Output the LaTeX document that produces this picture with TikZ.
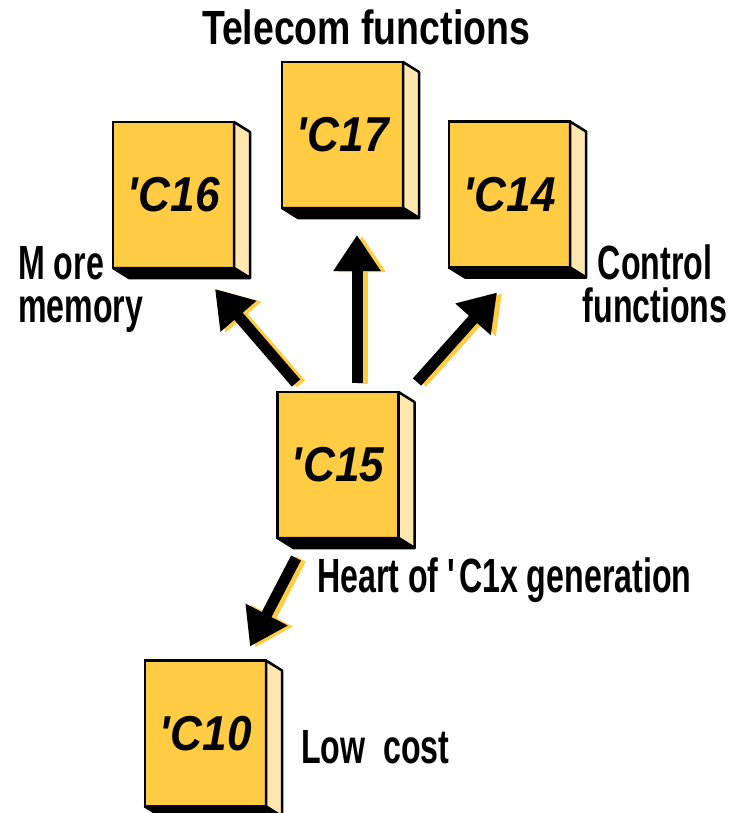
\documentclass[tikz,border=0pt]{standalone}
\usepackage{fontspec}
\usepackage{xcolor}
\usetikzlibrary{arrows.meta}

\newfontfamily\labelfont[FakeStretch=0.67]{Liberation Sans}
\newfontfamily\titlefont[FakeStretch=0.78]{Liberation Sans}
\newfontfamily\chipfont[FakeStretch=0.9]{Liberation Sans}
\definecolor{chipyellow}{HTML}{FFCC44}
\definecolor{chipside}{HTML}{FFE7AD}

\tikzset{
  chip/.style={draw=black, line width=2.5pt, fill=chipyellow, outer sep=0pt,
    minimum width=121pt, minimum height=146pt, inner sep=0pt,
    font=\chipfont\bfseries\itshape\fontsize{49}{49}\selectfont},
  caption/.style={inner sep=0pt, font=\labelfont\bfseries\fontsize{48}{43}\selectfont},
  fatarrow/.style={line width=11pt, -{Triangle[width=45pt,length=36pt]}},
  shadowarrow/.style={fatarrow, chipyellow, transform canvas={shift={(5,1)}}},
}

\begin{document}
\begin{tikzpicture}[x=1pt, y=-1pt]
    \useasboundingbox (0,0) rectangle (729,813);

    % Chips
    \node[chip] (c16) at (173.5,195) {\textquotesingle C16};
    \node[chip] (c17) at (342.5,135) {\textquotesingle C17};
    \node[chip] (c14) at (509.5,194.5) {\textquotesingle C14};
    \node[chip] (c15) at (338,465) {\textquotesingle C15};
    \node[chip] (c10) at (205.5,733.5) {\textquotesingle C10};

    % Side and bottom faces
    \foreach \n in {c16,c17,c14,c15,c10} {
        \filldraw[fill=chipside, draw=black, line width=2.5pt, line join=round]
            (\n.north east) -- ++(16,10) -- ++(0,146) -- (\n.south east) -- cycle;
        \filldraw[black, line width=2.5pt, line join=round]
            (\n.south west) -- ++(16,10) -- ([shift={(16,10)}]\n.south east) -- (\n.south east) -- cycle;
    }

    % Labels
    \node[caption, font=\titlefont\bfseries\fontsize{48}{43}\selectfont, anchor=base] (telecom) at (366,45) {Telecom functions};
    \node[caption, anchor=west, align=left] (memory) at (18,289) {M ore\\memory};
    \node[caption, align=center] (control) at (655,284) {Control\\functions};
    \node[caption, anchor=base west] (heart) at (317,592) {Heart of \textquotesingle C1x generation};
    \node[caption, anchor=base west] (lowcost) at (301,763) {Low\ \ cost};

    % Arrows (yellow shadow first)
    \draw[shadowarrow] ([shift={(-42,-9)}]c15.north) -- ([shift={(41.5,21)}]c16.south);
    \draw[fatarrow] ([shift={(-42,-9)}]c15.north) -- ([shift={(41.5,21)}]c16.south);
    \draw[shadowarrow] ([shift={(19,-9)}]c15.north) -- ([shift={(14.5,27)}]c17.south);
    \draw[fatarrow] ([shift={(19,-9)}]c15.north) -- ([shift={(14.5,27)}]c17.south);
    \draw[shadowarrow] ([shift={(79,-10)}]c15.north) -- ([shift={(-12.5,25)}]c14.south);
    \draw[fatarrow] ([shift={(79,-10)}]c15.north) -- ([shift={(-12.5,25)}]c14.south);
    \draw[shadowarrow] ([shift={(-42,20)}]c15.south) -- ([shift={(44.5,-14)}]c10.north);
    \draw[fatarrow] ([shift={(-42,20)}]c15.south) -- ([shift={(44.5,-14)}]c10.north);
\end{tikzpicture}
\end{document}
